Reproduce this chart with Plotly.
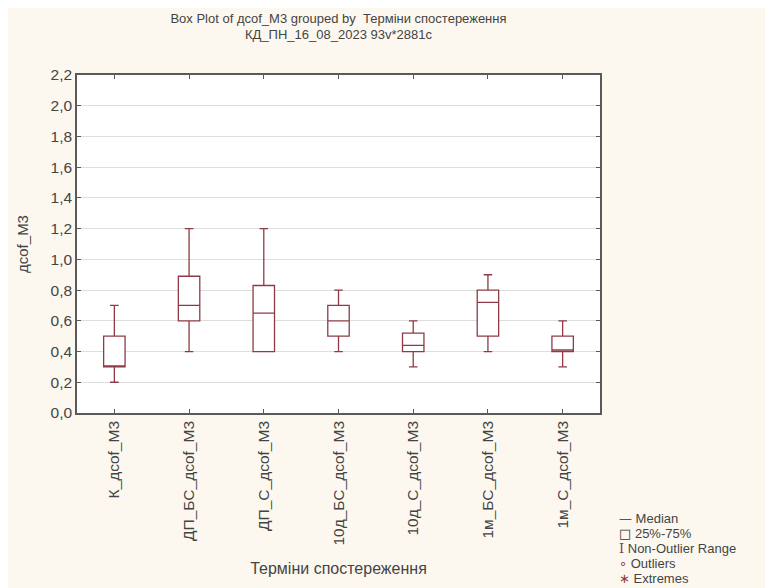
import plotly.graph_objects as go

categories = ["К_дcof_М3", "ДП_БС_дcof_М3", "ДП_С_дcof_М3", "10д_БС_дcof_М3",
              "10д_С_дcof_М3", "1м_БС_дcof_М3", "1м_С_дcof_М3"]
q1 = [0.30, 0.60, 0.40, 0.50, 0.40, 0.50, 0.40]
median = [0.30, 0.70, 0.65, 0.60, 0.44, 0.72, 0.41]
q3 = [0.50, 0.89, 0.83, 0.70, 0.52, 0.80, 0.50]
lower = [0.20, 0.40, 0.40, 0.40, 0.30, 0.40, 0.30]
upper = [0.70, 1.20, 1.20, 0.80, 0.60, 0.90, 0.60]
y_ticks = [0.0, 0.2, 0.4, 0.6, 0.8, 1.0, 1.2, 1.4, 1.6, 1.8, 2.0, 2.2]
legend_items = [("—", "Median"), ("□", "25%-75%"), ("I", "Non-Outlier Range"),
                ("∘", "Outliers"), ("∗", "Extremes")]

line_color = "#8E3B46"
text_color = "#444444"
axis_color = "#5A5A5A"
font_family = "Liberation Sans, Arial, sans-serif"

# page is rendered with an 8px body margin; figure size compensates for it
W, H = 765, 580
L, R, T, B = 69, 173, 67, 175

fig = go.Figure()
fig.add_trace(go.Box(
    x=categories, q1=q1, median=median, q3=q3,
    lowerfence=lower, upperfence=upper,
    line=dict(color=line_color, width=1.3),
    fillcolor="rgba(255,255,255,1)",
    whiskerwidth=0.4,
    boxpoints=False,
    showlegend=False,
))

fig.update_layout(
    width=W, height=H,
    margin=dict(l=L, r=R, t=T, b=B, autoexpand=False),
    paper_bgcolor="#FDF8EF",
    plot_bgcolor="#FFFFFF",
    separators=", ",
    boxgap=0.59,
    font=dict(family=font_family, size=12, color=text_color),
    title=dict(
        text="Box Plot of дcof_M3 grouped by  Терміни спостереження<br>КД_ПН_16_08_2023 93v*2881c",
        x=0.432, xanchor="center", xref="container",
        y=0.975, yanchor="top", yref="container",
        font=dict(size=13, color=text_color, family=font_family),
    ),
    xaxis=dict(
        type="category",
        range=[-0.5, 6.5],
        tickangle=-90,
        ticks="inside", ticklen=4, tickcolor=axis_color,
        showline=True, linecolor=axis_color, linewidth=1.6, mirror="ticks",
        showgrid=False,
        title=dict(text="Терміни спостереження", standoff=18,
                   font=dict(size=16, color=text_color)),
        tickfont=dict(size=15.5, color=text_color),
        automargin=False,
    ),
    yaxis=dict(
        range=[0, 2.2],
        tickvals=y_ticks,
        tickformat=".1f",
        ticks="inside", ticklen=4, tickcolor=axis_color,
        showline=True, linecolor=axis_color, linewidth=1.6, mirror="ticks",
        showgrid=True, gridcolor="#DEDEDE", gridwidth=1,
        zeroline=False,
        title=dict(text="дcof_M3", standoff=18,
                   font=dict(size=15, color=text_color)),
        tickfont=dict(size=15.5, color=text_color),
        automargin=False,
    ),
)

# Legend drawn as text annotations (lower right)
for i, (sym, label) in enumerate(legend_items):
    ypix = 518 + i * 15
    sym_font = "DejaVu Serif" if sym == "I" else "DejaVu Sans"
    sym_color = "#333333" if sym == "□" else line_color
    fig.add_annotation(
        xref="paper", yref="paper",
        x=(617 - 77) / 523,
        y=(413 - ypix) / 338,
        text=f"<span style='color:{sym_color};font-family:{sym_font}'>{sym}</span> {label}",
        showarrow=False, xanchor="left", yanchor="middle",
        font=dict(size=13, color=text_color, family=font_family),
    )

fig.write_html("out.html")
